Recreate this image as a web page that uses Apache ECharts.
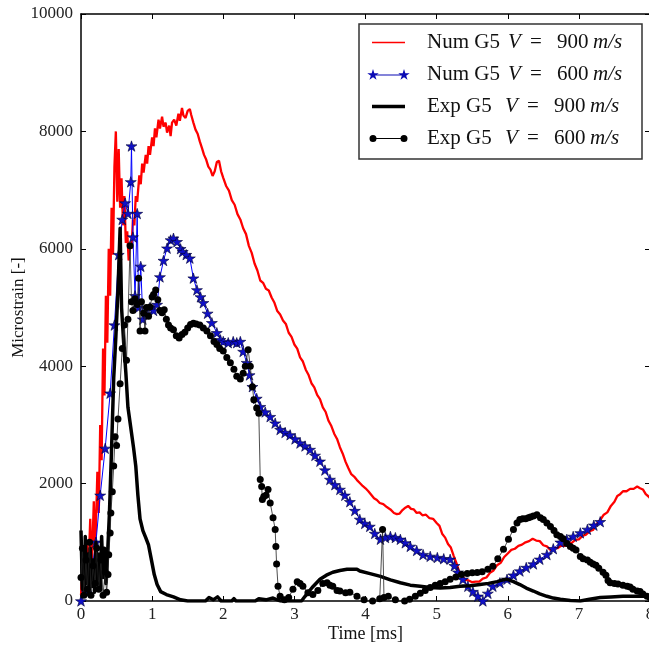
<!DOCTYPE html>
<html>
<head>
<meta charset="utf-8">
<script src="https://cdn.jsdelivr.net/npm/echarts@6/dist/echarts.min.js"></script>
<style>
  html, body { margin: 0; padding: 0; background: #fff; }
  #chart { width: 649px; height: 648px; }
</style>
</head>
<body>
<div id="chart"></div>
<script>
// Axis ticks
const timeTicks = [0, 1, 2, 3, 4, 5, 6, 7, 8];
const strainTicks = [0, 2000, 4000, 6000, 8000, 10000];

// Series names
const seriesNames = [
  'Num G5 V = 900 m/s',
  'Num G5 V = 600 m/s',
  'Exp G5 V = 900 m/s',
  'Exp G5 V = 600 m/s'
];

// Numerical gauge G5, impact at 900 m/s  [time ms, microstrain]
const numG5v900 = [
  [0.00,100],[0.03,600],[0.05,200],[0.08,1000],[0.10,350],[0.13,1400],[0.15,500],[0.18,1700],
  [0.20,800],[0.23,2200],[0.25,1500],[0.27,3000],[0.29,2400],[0.31,4300],[0.33,3500],[0.35,5200],
  [0.37,4400],[0.39,6000],[0.41,5200],[0.43,6700],[0.45,5900],[0.47,7400],[0.49,8000],[0.51,6800],
  [0.53,7700],[0.55,6700],[0.57,7200],[0.59,6400],[0.61,6900],[0.63,6100],[0.65,6300],[0.67,5800],
  [0.69,6100],[0.71,6000],[0.73,6500],[0.75,6400],[0.77,6900],[0.79,6800],[0.82,7250],[0.84,7100],
  [0.86,7450],[0.88,7300],[0.91,7600],[0.93,7450],[0.95,7750],[0.97,7600],[1.00,7900],[1.02,7750],
  [1.04,8050],[1.06,7900],[1.09,8200],[1.11,8050],[1.14,8250],[1.16,8080],[1.19,8150],[1.21,7980],
  [1.24,8100],[1.26,7920],[1.28,8150],[1.31,8200],[1.34,8100],[1.37,8300],[1.39,8180],[1.42,8400],
  [1.44,8270],[1.47,8230],[1.50,8350],[1.53,8380],[1.55,8280],[1.58,8150],[1.61,8030],[1.64,7960],
  [1.67,7830],[1.70,7720],[1.73,7600],[1.76,7520],[1.79,7400],[1.82,7350],[1.85,7240],[1.88,7320],
  [1.91,7480],[1.94,7500],[1.97,7320],[2.00,7210],[2.04,7070],[2.08,6990],[2.12,6830],[2.16,6750],
  [2.20,6590],[2.24,6500],[2.28,6350],[2.32,6250],[2.36,6050],[2.40,5930],[2.44,5750],[2.48,5630],
  [2.52,5460],[2.56,5420],[2.60,5320],[2.64,5290],[2.68,5170],[2.72,5080],[2.76,4940],[2.80,4880],
  [2.84,4780],[2.88,4720],[2.92,4570],[2.96,4500],[3.00,4370],[3.04,4300],[3.08,4150],[3.12,4080],
  [3.16,3940],[3.20,3850],[3.24,3710],[3.28,3640],[3.32,3510],[3.36,3440],[3.40,3300],[3.44,3220],
  [3.48,3070],[3.52,2980],[3.56,2850],[3.60,2760],[3.64,2620],[3.68,2510],[3.72,2370],[3.76,2260],
  [3.80,2160],[3.84,2120],[3.88,2060],[3.92,2010],[3.96,1960],[4.00,1920],[4.04,1870],[4.08,1810],
  [4.12,1750],[4.16,1720],[4.20,1670],[4.25,1650],[4.30,1600],[4.35,1560],[4.40,1500],[4.44,1480],
  [4.48,1490],[4.52,1550],[4.56,1590],[4.60,1620],[4.64,1570],[4.68,1560],[4.72,1500],[4.76,1510],
  [4.80,1460],[4.85,1470],[4.90,1410],[4.95,1400],[5.00,1330],[5.04,1280],[5.08,1140],[5.12,1080],
  [5.16,970],[5.20,910],[5.24,770],[5.28,640],[5.32,490],[5.36,430],[5.40,360],[5.45,350],
  [5.50,320],[5.55,330],[5.60,330],[5.65,380],[5.70,400],[5.75,480],[5.80,520],[5.85,610],
  [5.90,650],[5.95,750],[6.00,810],[6.05,870],[6.10,890],[6.15,940],[6.20,960],[6.25,1000],
  [6.30,1020],[6.35,1060],[6.40,1030],[6.45,1020],[6.50,950],[6.55,930],[6.60,870],[6.65,900],
  [6.70,900],[6.75,940],[6.80,940],[6.85,990],[6.90,990],[6.95,1040],[7.00,1050],[7.05,1110],
  [7.10,1130],[7.15,1190],[7.20,1210],[7.25,1310],[7.30,1380],[7.35,1470],[7.40,1510],[7.45,1620],
  [7.50,1690],[7.54,1790],[7.58,1820],[7.62,1870],[7.67,1870],[7.72,1910],[7.77,1910],[7.82,1950],
  [7.86,1920],[7.90,1900],[7.94,1820],[7.98,1780],[8.00,1750]
];

// Numerical gauge G5, impact at 600 m/s
const numG5v600 = [
  [0.00,0],[0.08,150],[0.15,500],[0.21,1000],[0.27,1800],[0.34,2600],[0.41,3540],[0.47,4700],
  [0.53,5900],[0.58,6500],[0.62,6780],[0.66,6600],[0.70,7140],[0.71,7750],[0.73,6200],[0.76,5200],
  [0.79,6600],[0.81,5000],[0.84,5700],[0.87,4800],[0.92,4900],[0.97,5000],[1.02,4950],[1.07,5050],
  [1.11,5520],[1.16,5800],[1.21,6010],[1.26,6150],[1.30,6180],[1.35,6120],[1.40,6000],[1.43,5950],
  [1.48,5900],[1.53,5840],[1.58,5500],[1.63,5300],[1.68,5180],[1.72,5080],[1.78,4900],[1.84,4740],
  [1.91,4570],[1.96,4450],[2.00,4420],[2.07,4400],[2.14,4420],[2.19,4400],[2.24,4420],[2.28,4250],
  [2.33,4060],[2.37,3850],[2.41,3650],[2.47,3450],[2.52,3310],[2.59,3220],[2.66,3140],[2.73,3030],
  [2.80,2920],[2.87,2870],[2.94,2830],[3.01,2760],[3.08,2690],[3.15,2640],[3.22,2580],[3.29,2480],
  [3.36,2380],[3.43,2230],[3.50,2070],[3.57,1980],[3.64,1900],[3.71,1800],[3.78,1690],[3.85,1540],
  [3.92,1390],[3.99,1320],[4.06,1270],[4.13,1150],[4.21,1050],[4.28,1080],[4.35,1100],[4.42,1080],
  [4.49,1050],[4.56,990],[4.63,930],[4.72,860],[4.81,790],[4.91,760],[5.01,740],[5.10,720],
  [5.19,710],[5.25,600],[5.30,490],[5.37,370],[5.44,250],[5.51,160],[5.58,80],[5.65,0],
  [5.72,130],[5.79,250],[5.89,310],[5.99,370],[6.08,440],[6.17,510],[6.26,570],[6.36,630],
  [6.45,710],[6.55,790],[6.64,890],[6.74,1000],[6.83,1050],[6.92,1100],[7.02,1160],[7.12,1220],
  [7.21,1290],[7.30,1350]
];

// Experimental gauge G5, impact at 900 m/s
const expG5v900 = [
  [0.00,1200],[0.02,200],[0.03,900],[0.05,100],[0.06,1100],[0.08,300],[0.10,800],[0.11,100],
  [0.13,900],[0.15,250],[0.17,700],[0.19,150],[0.21,1000],[0.23,300],[0.25,800],[0.27,200],
  [0.29,1100],[0.31,400],[0.33,900],[0.35,300],[0.37,700],[0.40,1500],[0.43,2600],[0.46,3800],
  [0.49,4500],[0.52,5300],[0.55,6350],[0.57,5000],[0.60,4400],[0.63,3900],[0.66,3300],[0.70,2950],
  [0.74,2600],[0.77,2300],[0.80,1800],[0.83,1400],[0.87,1200],[0.91,1080],[0.95,950],[0.99,700],
  [1.03,450],[1.07,280],[1.12,160],[1.20,110],[1.30,70],[1.40,20],[1.50,0],[1.75,0],
  [1.80,60],[1.86,20],[1.92,70],[1.97,0],[2.12,0],[2.15,40],[2.18,0],[2.45,0],
  [2.50,40],[2.60,20],[2.70,50],[2.80,0],[3.10,0],[3.15,80],[3.25,230],[3.36,370],
  [3.45,440],[3.54,490],[3.64,520],[3.74,540],[3.88,540],[3.92,510],[4.05,470],[4.21,420],
  [4.35,360],[4.49,310],[4.63,270],[4.77,250],[4.91,230],[5.05,220],[5.19,230],[5.33,250],
  [5.47,260],[5.61,280],[5.73,300],[5.85,330],[5.93,360],[5.99,370],[6.08,330],[6.17,280],
  [6.26,220],[6.36,170],[6.45,120],[6.55,80],[6.64,50],[6.74,30],[6.88,10],[7.02,0],
  [7.15,30],[7.30,60],[7.45,70],[7.62,80],[7.80,80],[8.00,80]
];

// Experimental gauge G5, impact at 600 m/s
const expG5v600 = [
  [0.00,400],[0.02,900],[0.04,100],[0.07,700],[0.09,200],[0.12,1000],[0.14,100],[0.17,600],
  [0.20,300],[0.22,900],[0.25,200],[0.28,700],[0.31,100],[0.34,500],[0.36,150],[0.38,450],
  [0.39,790],[0.41,1160],[0.42,1500],[0.44,1860],[0.46,2300],[0.48,2800],[0.50,2650],[0.52,3100],
  [0.55,3700],[0.58,4300],[0.61,4700],[0.64,4100],[0.66,4800],[0.69,6050],[0.71,5100],[0.73,4950],
  [0.76,5150],[0.79,5050],[0.81,5500],[0.83,4600],[0.85,5100],[0.88,4900],[0.90,4600],[0.92,5000],
  [0.95,4850],[0.97,5010],[1.00,5180],[1.02,5220],[1.05,5300],[1.08,5130],[1.11,4950],[1.14,4910],
  [1.17,4960],[1.20,4800],[1.23,4700],[1.26,4650],[1.30,4620],[1.34,4520],[1.38,4480],[1.42,4540],
  [1.46,4580],[1.50,4650],[1.54,4710],[1.58,4730],[1.62,4720],[1.67,4700],[1.72,4650],[1.77,4600],
  [1.82,4520],[1.87,4420],[1.91,4370],[1.95,4300],[2.00,4260],[2.05,4150],[2.10,4060],[2.15,3950],
  [2.19,3830],[2.24,3780],[2.28,3880],[2.31,4000],[2.35,4280],[2.38,4000],[2.41,3650],[2.43,3430],
  [2.47,3290],[2.50,3200],[2.52,2070],[2.54,1950],[2.55,1730],[2.57,1780],[2.60,1800],[2.63,1900],
  [2.66,1670],[2.70,1420],[2.73,1220],[2.74,930],[2.75,630],[2.77,250],[2.80,80],[2.86,20],
  [2.92,60],[2.98,200],[3.04,330],[3.08,300],[3.12,250],[3.19,140],[3.26,110],[3.33,180],
  [3.40,300],[3.46,310],[3.50,270],[3.54,250],[3.60,180],[3.64,170],[3.72,140],[3.78,150],
  [3.88,80],[3.98,20],[4.10,0],[4.20,40],[4.24,1220],[4.26,60],[4.32,80],[4.42,20],
  [4.55,0],[4.62,30],[4.70,80],[4.77,130],[4.84,180],[4.91,230],[4.98,270],[5.05,300],
  [5.12,330],[5.19,370],[5.27,410],[5.35,450],[5.43,470],[5.50,480],[5.57,485],[5.64,500],
  [5.72,540],[5.79,590],[5.86,720],[5.94,880],[6.01,1050],[6.08,1220],[6.13,1330],[6.17,1390],
  [6.21,1400],[6.25,1400],[6.29,1420],[6.32,1430],[6.36,1450],[6.41,1470],[6.46,1420],[6.50,1390],
  [6.55,1330],[6.60,1270],[6.65,1200],[6.69,1130],[6.74,1100],[6.78,1060],[6.83,980],[6.88,930],
  [6.92,900],[6.96,870],[7.02,760],[7.06,720],[7.12,700],[7.16,660],[7.20,630],[7.24,610],
  [7.28,560],[7.34,490],[7.38,440],[7.41,350],[7.44,310],[7.50,300],[7.55,290],[7.62,270],
  [7.68,250],[7.72,240],[7.76,200],[7.82,170],[7.86,160],[7.90,120],[7.96,80],[8.00,60]
];

const SERIF = 'Liberation Serif';
const RED = '#ff0000';
const BLUE = '#0000ff';
const STAR_FILL = '#1010c8';

// Five-point star marker
const STAR = 'path://M5,0L6.12,3.45L9.76,3.45L6.82,5.59L7.94,9.05L5,6.91L2.06,9.05L3.18,5.59L0.24,3.45L3.88,3.45Z';

// Legend glyphs share a 44x12 box (corner anchors fix the bounding box)
const ANCHOR = 'M0,0L0.01,0.01M44,12L43.99,11.99';
const ICON_RED = 'path://' + ANCHOR + 'M5,5.3L38,5.3L38,6.7L5,6.7Z';
const ICON_STARS = 'path://' + ANCHOR + 'M6,6L37,6L37,7L6,7Z' +
  'M6,0.5L7.35,4.65L11.71,4.65L8.18,7.21L9.53,11.35L6,8.79L2.47,11.35L3.82,7.21L0.29,4.65L4.65,4.65Z' +
  'M37,0.5L38.35,4.65L42.71,4.65L39.18,7.21L40.53,11.35L37,8.79L33.47,11.35L34.82,7.21L31.29,4.65L35.65,4.65Z';
const ICON_THICK = 'path://' + ANCHOR + 'M5,4.25L38,4.25L38,7.75L5,7.75Z';
const ICON_DOTS = 'path://' + ANCHOR + 'M6,5.5L37,5.5L37,6.5L6,6.5Z' +
  'M2.5,6A3.5,3.5 0 1,1 9.5,6A3.5,3.5 0 1,1 2.5,6Z' +
  'M33.5,6A3.5,3.5 0 1,1 40.5,6A3.5,3.5 0 1,1 33.5,6Z';

function legendLabel(name) {
  // "Num G5 V = 900 m/s" -> upright label, italic math symbols
  const parts = name.split(' ');
  const head = parts[0] + ' ' + parts[1];
  const lead = parts[0] === 'Num' ? 'hn' : 'he';
  return '{' + lead + '|' + head + '}{v|V}{eq|=}{d|' + parts[4] + '}{u|m/s}';
}

const tickFont = { fontFamily: SERIF, fontSize: 17, color: '#222' };
const lgBase = { fontFamily: SERIF, fontSize: 21, color: '#111', lineHeight: 20 };

const chart = echarts.init(document.getElementById('chart'), null, { renderer: 'canvas' });

const baseX = {
  type: 'value', min: timeTicks[0], max: timeTicks[timeTicks.length - 1], interval: 1,
  axisLine: { onZero: false, lineStyle: { color: '#000', width: 1.5 } },
  axisTick: { inside: true, length: 5, lineStyle: { color: '#000', width: 1 } },
  splitLine: { show: false }
};
const baseY = {
  type: 'value', min: strainTicks[0], max: strainTicks[strainTicks.length - 1], interval: 2000,
  axisLine: { onZero: false, lineStyle: { color: '#000', width: 1.5 } },
  axisTick: { inside: true, length: 5, lineStyle: { color: '#000', width: 1 } },
  splitLine: { show: false }
};

chart.setOption({
  animation: false,
  backgroundColor: '#ffffff',
  grid: { left: 81, right: -1, top: 14, bottom: 47, containLabel: false, outerBoundsMode: 'none' },
  xAxis: [
    Object.assign({}, baseX, {
      position: 'bottom',
      name: 'Time [ms]', nameLocation: 'middle', nameGap: 24, nameMoveOverlap: false,
      nameTextStyle: { fontFamily: SERIF, fontSize: 18, color: '#111' },
      axisLabel: Object.assign({ margin: 5, formatter: v => String(v) }, tickFont)
    }),
    Object.assign({}, baseX, { position: 'top', axisLabel: { show: false } })
  ],
  yAxis: [
    Object.assign({}, baseY, {
      position: 'left',
      name: 'Microstrain [-]', nameLocation: 'middle', nameGap: 54, nameRotate: 90,
      nameMoveOverlap: false,
      nameTextStyle: { fontFamily: SERIF, fontSize: 17, color: '#111' },
      axisLabel: Object.assign({ margin: 8, formatter: v => String(v) }, tickFont)
    }),
    Object.assign({}, baseY, { position: 'right', axisLabel: { show: false } })
  ],
  legend: {
    orient: 'vertical',
    left: 359, top: 24,
    padding: [8, 9, 10, 8],
    itemWidth: 44, itemHeight: 12, itemGap: 11,
    symbolKeepAspect: true,
    backgroundColor: '#ffffff',
    borderColor: '#333', borderWidth: 1.5, borderRadius: 0,
    selectedMode: false,
    formatter: legendLabel,
    textStyle: {
      fontFamily: SERIF, fontSize: 21, color: '#111', lineHeight: 20,
      padding: [0, 0, 0, 11],
      rich: {
        hn: Object.assign({ width: 81 }, lgBase),
        he: Object.assign({ width: 78 }, lgBase),
        v: Object.assign({ width: 22, fontStyle: 'italic' }, lgBase),
        eq: Object.assign({ width: 27 }, lgBase),
        d: Object.assign({ width: 36 }, lgBase),
        u: Object.assign({ width: 40, fontStyle: 'italic' }, lgBase)
      }
    },
    data: [
      { name: seriesNames[0], icon: ICON_RED, itemStyle: { color: RED, borderWidth: 0 } },
      { name: seriesNames[1], icon: ICON_STARS, itemStyle: { color: '#0a0ab4', borderWidth: 0 } },
      { name: seriesNames[2], icon: ICON_THICK, itemStyle: { color: '#000', borderWidth: 0 } },
      { name: seriesNames[3], icon: ICON_DOTS, itemStyle: { color: '#000', borderWidth: 0 } }
    ]
  },
  series: [
    {
      name: seriesNames[0], type: 'line', data: numG5v900,
      showSymbol: false, symbol: 'none',
      lineStyle: { color: RED, width: 2.3 }, itemStyle: { color: RED }, z: 2
    },
    {
      name: seriesNames[1], type: 'line', data: numG5v600,
      symbol: STAR, symbolSize: 11, symbolKeepAspect: true, showAllSymbol: true,
      lineStyle: { color: BLUE, width: 1 },
      itemStyle: { color: STAR_FILL, borderColor: '#000030', borderWidth: 0.6 }, z: 3
    },
    {
      name: seriesNames[2], type: 'line', data: expG5v900,
      showSymbol: false, symbol: 'none',
      lineStyle: { color: '#000', width: 3.5, join: 'round' }, itemStyle: { color: '#000' }, z: 4
    },
    {
      name: seriesNames[3], type: 'line', data: expG5v600,
      symbol: 'circle', symbolSize: 7, showAllSymbol: true,
      lineStyle: { color: '#222', width: 0.8 },
      itemStyle: { color: '#000', borderWidth: 0 }, z: 5
    }
  ]
});
</script>
</body>
</html>
